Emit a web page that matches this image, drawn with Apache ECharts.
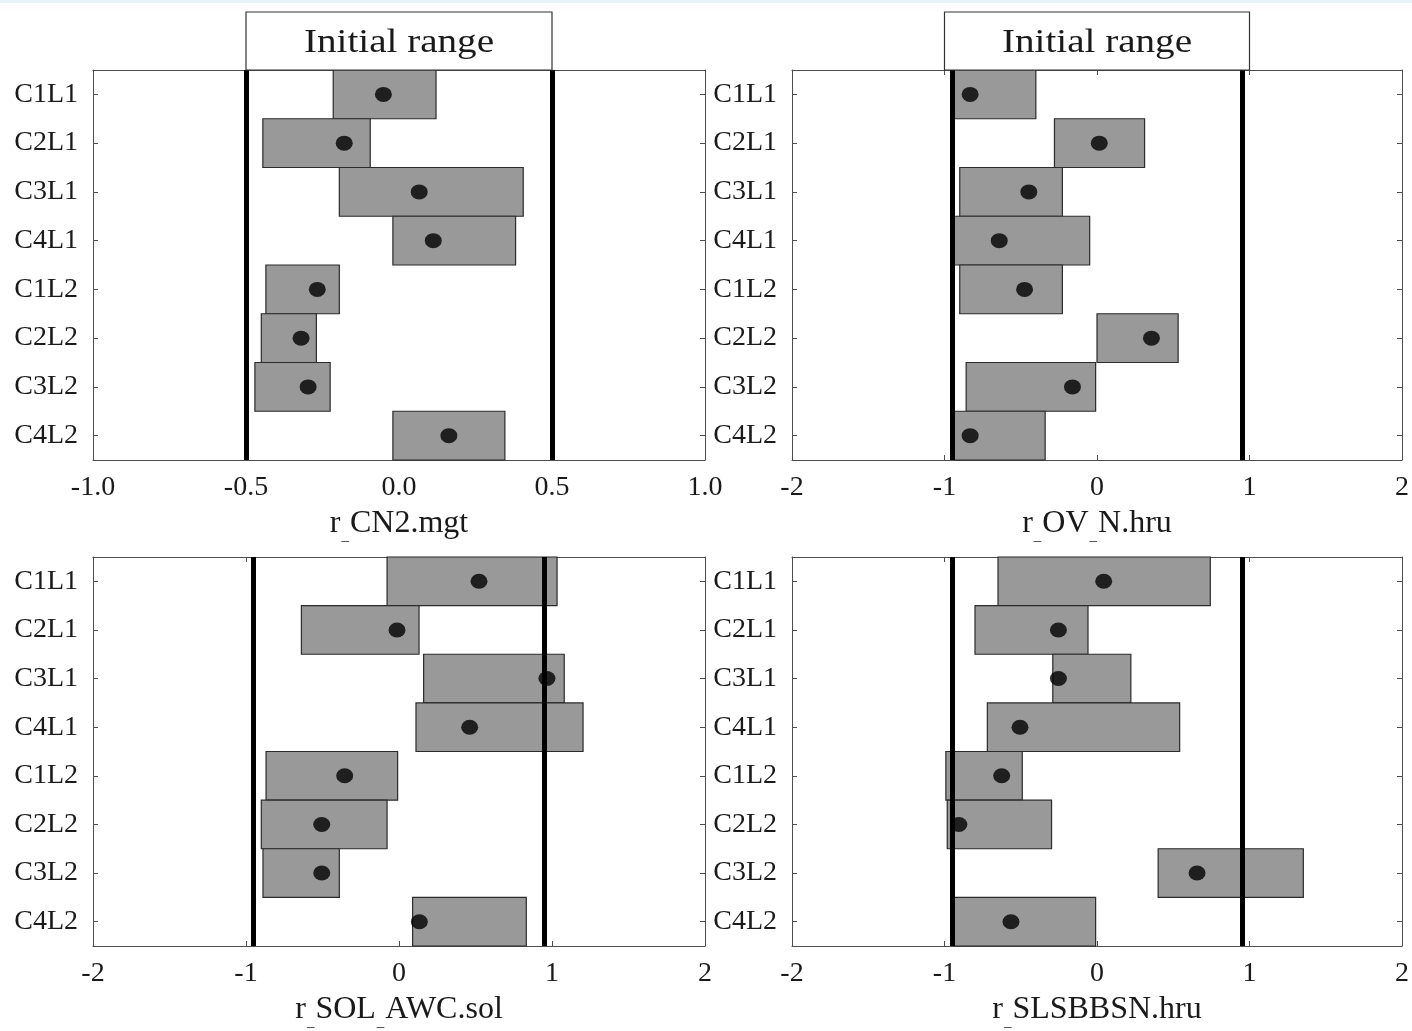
<!DOCTYPE html>
<html><head><meta charset="utf-8">
<script src="https://cdn.jsdelivr.net/npm/echarts@6/dist/echarts.min.js"></script>
<style>html,body{margin:0;padding:0;background:#fff}#c{width:1412px;height:1031px}</style>
</head><body><div id="c"></div><script>
const categories = ['C1L1','C2L1','C3L1','C4L1','C1L2','C2L2','C3L2','C4L2'];

// r_CN2.mgt
const cn2Low  = [-0.215,-0.445,-0.195,-0.020,-0.435,-0.450,-0.471,-0.020];
const cn2High = [ 0.121,-0.094, 0.406, 0.381,-0.195,-0.270,-0.225, 0.346];
const cn2Best = [-0.051,-0.179, 0.066, 0.112,-0.267,-0.320,-0.297, 0.163];
const cn2Initial = [-0.5, 0.5];

// r_OV_N.hru
const ovnLow  = [-0.935,-0.279,-0.900,-0.935,-0.900, 0.000,-0.858,-0.935];
const ovnHigh = [-0.401, 0.312,-0.227,-0.048,-0.227, 0.532,-0.009,-0.340];
const ovnBest = [-0.832, 0.015,-0.447,-0.641,-0.475, 0.357,-0.161,-0.832];
const ovnInitial = [-0.95, 0.95];

// r_SOL_AWC.sol
const awcLow  = [-0.078,-0.638, 0.161, 0.111,-0.869,-0.900,-0.889, 0.089];
const awcHigh = [ 1.033, 0.131, 1.080, 1.203,-0.009,-0.078,-0.390, 0.832];
const awcBest = [ 0.523,-0.013, 0.967, 0.462,-0.355,-0.505,-0.505, 0.133];
const awcInitial = [-0.95, 0.95];

// r_SLSBBSN.hru
const slsLow  = [-0.649,-0.800,-0.290,-0.719,-0.991,-0.982, 0.401,-0.935];
const slsHigh = [ 0.743,-0.059, 0.222, 0.542,-0.490,-0.298, 1.353,-0.009];
const slsBest = [ 0.044,-0.253,-0.253,-0.505,-0.625,-0.906, 0.656,-0.564];
const slsInitial = [-0.95, 0.95];

const cn2Ticks = [-1.0, 1.0, 0.5];   // min, max, interval
const wideTicks = [-2, 2, 1];

const cn2Name = '{m|r}{s|_}{m|CN2.mgt}';
const ovnName = '{m|r}{s|_}{m|OV}{s|_}{m|N.hru}';
const awcName = '{m|r}{s|_}{m|SOL}{s|_}{m|AWC.sol}';
const slsName = '{m|r}{s|_}{m|SLSBBSN.hru}';

const boxLabel = 'Initial range';
const cn2Box = [-0.5, 0.5];
const ovnBox = [-1, 1];

const FONT = 'Liberation Serif';
const AX = '#4d4d4d';
const TXT = '#1a1a1a';

const panels = [
  {low: cn2Low, high: cn2High, best: cn2Best, init: cn2Initial, ticks: cn2Ticks, name: cn2Name, dec: 1, box: cn2Box},
  {low: ovnLow, high: ovnHigh, best: ovnBest, init: ovnInitial, ticks: wideTicks, name: ovnName, dec: 0, box: ovnBox},
  {low: awcLow, high: awcHigh, best: awcBest, init: awcInitial, ticks: wideTicks, name: awcName, dec: 0},
  {low: slsLow, high: slsHigh, best: slsBest, init: slsInitial, ticks: wideTicks, name: slsName, dec: 0}
];

const grids = [
  {left: 93, top: 70, width: 612, height: 390},
  {left: 792, top: 70, width: 612, height: 390},
  {left: 93, top: 557, width: 612, height: 391},
  {left: 792, top: 557, width: 612, height: 391}
];

const xAxes = [], yAxes = [], series = [];
panels.forEach((p, i) => {
  const tick = {show: true, inside: true, length: 5, lineStyle: {color: AX, width: 1}};
  const line = {show: true, onZero: false, lineStyle: {color: AX, width: 1}};
  xAxes.push({
    gridIndex: i, type: 'value', position: 'bottom',
    min: p.ticks[0], max: p.ticks[1], interval: p.ticks[2],
    axisLine: line, axisTick: tick, splitLine: {show: false},
    axisLabel: {fontFamily: FONT, fontSize: 28, color: TXT, margin: 14,
      formatter: v => v.toFixed(p.dec)},
    name: p.name, nameLocation: 'middle', nameGap: 48,
    nameTextStyle: {rich: {
      m: {fontFamily: FONT, fontSize: 32, lineHeight: 36, color: TXT, verticalAlign: 'top'},
      s: {fontFamily: FONT, fontSize: 15, lineHeight: 15, color: TXT, verticalAlign: 'top', padding: [21, 1, 0, 1]}
    }}
  });
  xAxes.push({
    gridIndex: i, type: 'value', position: 'top',
    min: p.ticks[0], max: p.ticks[1], interval: p.ticks[2],
    axisLine: line, axisTick: tick, splitLine: {show: false}, axisLabel: {show: false}
  });
  yAxes.push({
    gridIndex: i, type: 'category', data: categories, inverse: true, position: 'left',
    axisLine: line, axisTick: Object.assign({alignWithLabel: true}, tick), splitLine: {show: false},
    axisLabel: {fontFamily: FONT, fontSize: 28, color: TXT, margin: 15, padding: [6, 0, 0, 0]}
  });
  yAxes.push({
    gridIndex: i, type: 'category', data: categories, inverse: true, position: 'right',
    axisLine: line, axisTick: Object.assign({alignWithLabel: true}, tick), splitLine: {show: false},
    axisLabel: {show: false}
  });
  series.push({
    type: 'custom', xAxisIndex: 2 * i, yAxisIndex: 2 * i, z: 2, silent: true,
    data: categories.map((c, k) => [k, p.low[k], p.high[k]]),
    encode: {x: [1, 2], y: 0},
    renderItem(params, api) {
      const k = api.value(0);
      const a = api.coord([api.value(1), k]);
      const b = api.coord([api.value(2), k]);
      const h = api.size([0, 1])[1];
      return {type: 'rect',
        shape: {x: a[0], y: a[1] - h / 2, width: b[0] - a[0], height: h},
        style: {fill: '#999999', stroke: '#2b2b2b', lineWidth: 1.2}};
    }
  });
  series.push({
    type: 'line', xAxisIndex: 2 * i, yAxisIndex: 2 * i, z: 3, data: [], silent: true,
    markLine: {silent: true, symbol: ['none', 'none'], label: {show: false},
      lineStyle: {color: '#000', width: 5, type: 'solid'},
      emphasis: {disabled: true},
      data: p.init.map(v => ({xAxis: v}))}
  });
  series.push({
    type: 'scatter', xAxisIndex: 2 * i, yAxisIndex: 2 * i, z: 4, silent: true,
    symbol: 'circle', symbolSize: [17, 15],
    itemStyle: {color: '#000'},
    data: categories.map((c, k) => [p.best[k], c])
  });
});

const chart = echarts.init(document.getElementById('c'), null, {renderer: 'canvas'});
chart.setOption({
  backgroundColor: '#fff', animation: false,
  grid: grids, xAxis: xAxes, yAxis: yAxes, series: series
});

const graphics = [{type: 'rect', shape: {x: 0, y: 0, width: 1412, height: 3}, style: {fill: '#e4f1f6'}, silent: true}];
panels.forEach((p, i) => {
  if (!p.box) return;
  const x1 = chart.convertToPixel({xAxisIndex: 2 * i}, p.box[0]);
  const x2 = chart.convertToPixel({xAxisIndex: 2 * i}, p.box[1]);
  const top = grids[i].top;
  graphics.push({type: 'rect', z: 10, shape: {x: x1, y: 12, width: x2 - x1, height: top - 12},
    style: {fill: '#fff', stroke: '#333', lineWidth: 1.2}});
  graphics.push({type: 'text', z: 11, x: (x1 + x2) / 2, y: (12 + top) / 2 + 2, scaleX: 1.15,
    style: {text: boxLabel, font: '34px "Liberation Serif"', fill: TXT, align: 'center', verticalAlign: 'middle'}});
});
chart.setOption({graphic: graphics});
</script></body></html>
